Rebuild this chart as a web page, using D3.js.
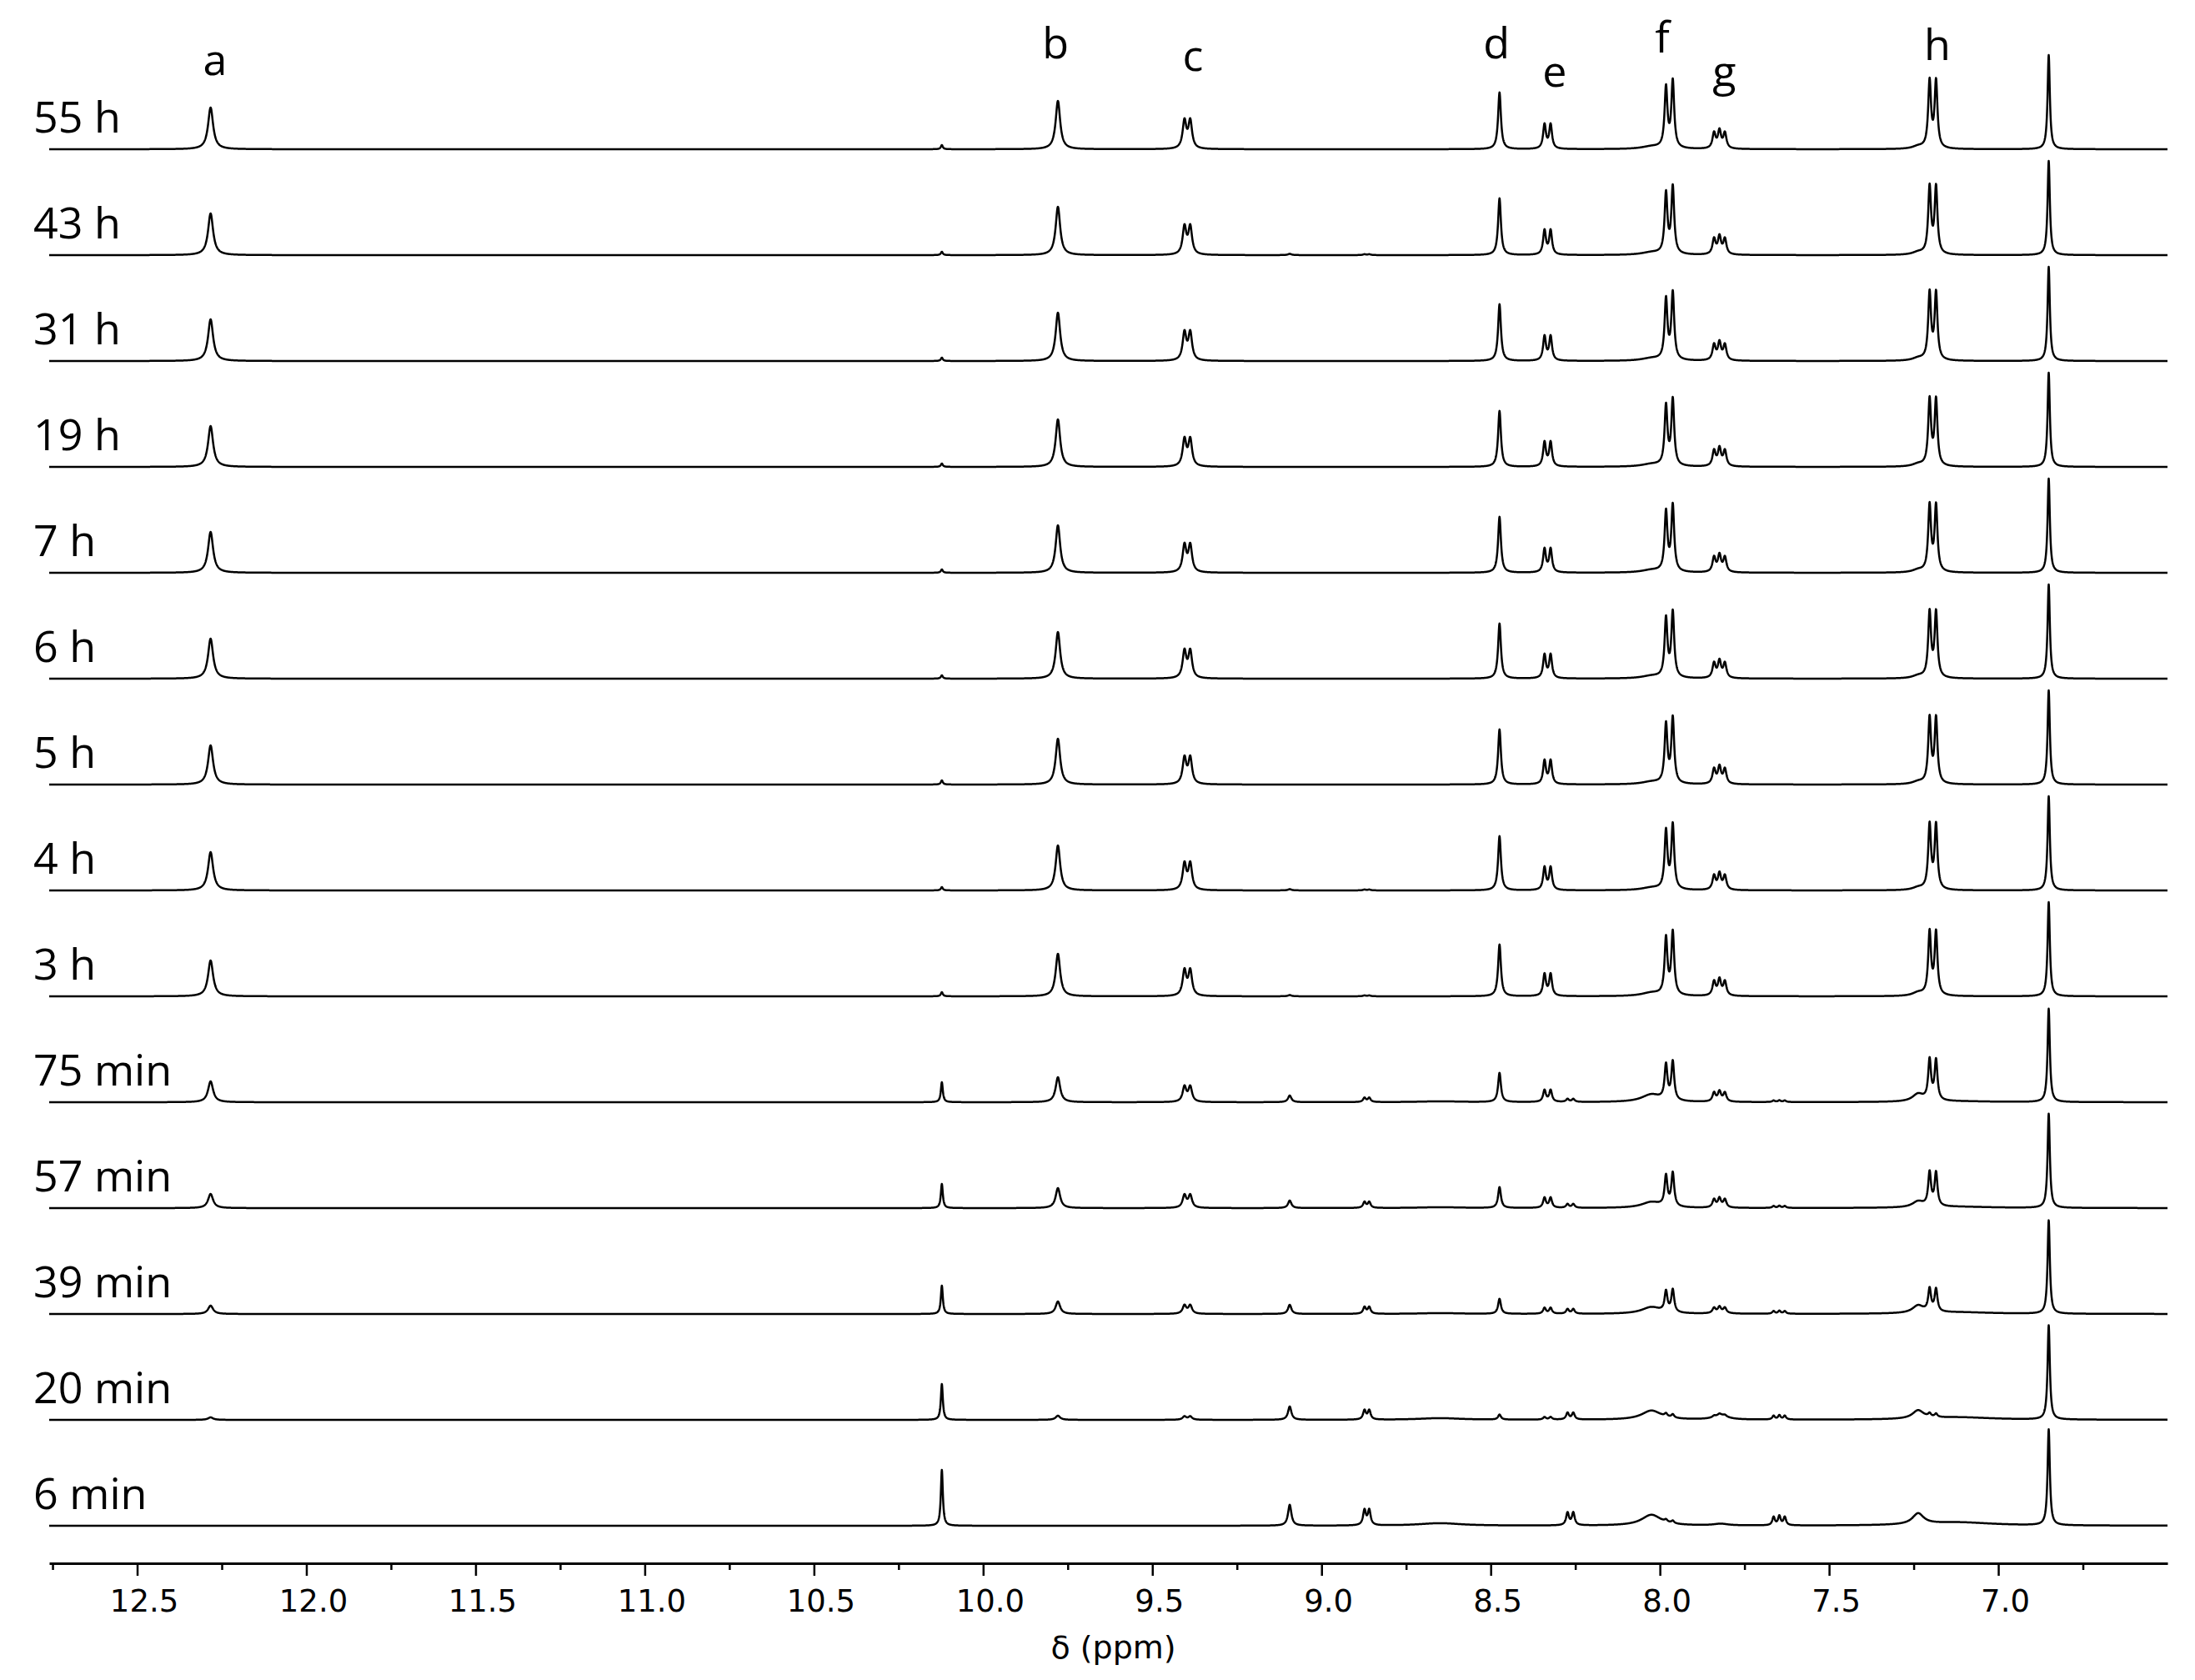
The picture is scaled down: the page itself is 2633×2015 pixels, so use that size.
<!DOCTYPE html>
<html lang="en">
<head>
<meta charset="UTF-8">
<title>1H NMR time series</title>
<script src="https://cdn.jsdelivr.net/npm/d3@7/dist/d3.min.js"></script>
<style>
  body { margin: 0; background: #fff; }
</style>
</head>
<body>
<div id="app"></div>
<script>
    var width = 2633;
    var height = 2015;

    // spectra, top to bottom
    var spectrumLabels = ["55 h", "43 h", "31 h", "19 h", "7 h", "6 h", "5 h", "4 h", "3 h",
                          "75 min", "57 min", "39 min", "20 min", "6 min"];

    // signals: line positions (ppm), relative line intensities, linewidth (ppm)
    var signalNames = ["a", "b", "c", "d", "e", "f", "g", "h", "ref",
                       "i1", "i2", "i3", "i4", "i5", "br1", "br2", "br3", "br4", "br5"];
    var signalLines = [[12.283], [9.779], [9.405, 9.388], [8.474], [8.341, 8.323],
                       [7.982, 7.962], [7.840, 7.824, 7.808], [7.203, 7.184], [6.851],
                       [10.122], [9.094], [8.873, 8.859], [8.273, 8.256], [7.664, 7.647, 7.631],
                       [8.025], [7.237], [8.65], [7.12], [7.82]];
    var lineRel = [[1], [1], [1, 1], [1], [1, 1], [0.9, 1], [0.88, 1, 0.88], [1, 1], [1],
                   [1], [1], [1, 1], [1, 1], [0.9, 1, 0.9], [1], [1], [1], [1], [1]];
    var lineWidth = [0.018, 0.016, 0.013, 0.010, 0.010, 0.010, 0.011, 0.010, 0.008,
                     0.007, 0.012, 0.010, 0.010, 0.009, 0.07, 0.04, 0.15, 0.25, 0.05];

    // heights of each signal in every spectrum (a.u.), same order as spectrumLabels
    var hA   = [50, 50, 50, 49, 49, 48, 47, 46, 43, 25, 17, 10, 3, 0];
    var hB   = [58, 58, 58, 57, 57, 56, 55, 54, 51, 30, 24, 15, 5, 0];
    var hC   = [33, 33, 33, 32, 32, 32, 31, 31, 30, 18, 15, 10, 4, 0];
    var hD   = [68, 68, 68, 67, 67, 66, 66, 65, 62, 35, 25, 18, 6, 0];
    var hE   = [29, 29, 29, 29, 28, 28, 28, 27, 26, 14, 12, 7, 3, 0];
    var hF   = [80, 80, 80, 79, 79, 78, 78, 77, 75, 46, 40, 27, 4, 3];
    var hG   = [21, 21, 21, 21, 20, 20, 20, 19, 19, 12, 11, 7, 2, 0];
    var hH   = [80, 80, 80, 79, 79, 78, 78, 77, 75, 48, 40, 27, 4, 0];
    var hRef = [113, 113, 113, 113, 113, 113, 113, 113, 113, 112, 113, 112, 113, 115];
    var hI1  = [5, 4, 4, 4, 4, 4, 5, 4, 5, 24, 29, 34, 43, 67];
    var hI2  = [0, 1.5, 0, 0, 0, 0, 0, 1.5, 1.5, 8, 9, 11, 16, 25];
    var hI3  = [0, 1, 0, 0, 0, 0, 0, 1, 1, 5, 7, 8, 11, 18];
    var hI4  = [0, 0, 0, 0, 0, 0, 0, 0, 0, 3.5, 4.5, 5.5, 8, 15];
    var hI5  = [0, 0, 0, 0, 0, 0, 0, 0, 0, 2, 2.5, 3.5, 5, 11];
    var hBr1 = [3, 3, 3, 3, 3, 3, 3, 3, 4, 9, 7, 8, 11, 13];
    var hBr2 = [3, 3, 3, 3, 3, 3, 3, 3, 4, 9, 7, 9, 10, 13];
    var hBr3 = [0, 0, 0, 0, 0, 0, 0, 0, 0, 1, 1, 1, 2, 3];
    var hBr4 = [0, 0, 0, 0, 0, 0, 0, 0, 0, 1, 1.5, 2, 3, 4];
    var hBr5 = [0, 0, 0, 0, 0, 0, 0, 0, 0, 0, 0, 1, 5, 2];
    var signalHeights = [hA, hB, hC, hD, hE, hF, hG, hH, hRef,
                         hI1, hI2, hI3, hI4, hI5, hBr1, hBr2, hBr3, hBr4, hBr5];

    // assignment letters over the top spectrum
    var peakLetters = ["a", "b", "c", "d", "e", "f", "g", "h"];
    var peakLetterPpm = [12.27, 9.786, 9.38, 8.483, 8.311, 7.993, 7.81, 7.18];
    var peakLetterY = [90, 70, 85, 70, 104, 63, 104, 72];   // layout only

    // axis ticks
    var majorTicks = [12.5, 12.0, 11.5, 11.0, 10.5, 10.0, 9.5, 9.0, 8.5, 8.0, 7.5, 7.0];
    var minorTicks = [12.75, 12.25, 11.75, 11.25, 10.75, 10.25, 9.75, 9.25, 8.75, 8.25, 7.75, 7.25, 6.75];

    var svg = d3.select("#app")
        .append("svg")
        .attr("width", width)
        .attr("height", height);

    svg.append("rect").attr("width", width).attr("height", height).attr("fill", "#fff");

    var x = d3.scaleLinear().domain([12.76, 6.5]).range([59, 2600]);
    var base = d3.scalePoint().domain(spectrumLabels).range([179, 1830]);
    var amp = d3.scaleLinear().domain([0, 100]).range([0, 100]);
    var axisY = 1875;

    // lorentzian line shape summed over all lines of all signals
    function intensity(ppm, k) {
        var s = 0;
        for (var i = 0; i < signalLines.length; i++) {
            var h = signalHeights[i][k];
            if (!h) continue;
            var hw = lineWidth[i] / 2;
            for (var j = 0; j < signalLines[i].length; j++) {
                var t = (ppm - signalLines[i][j]) / hw;
                s += h * lineRel[i][j] / (1 + t * t);
            }
        }
        return s;
    }

    var pxGrid = d3.range(x.range()[0], x.range()[1] + 0.001, 0.25);

    var line = d3.line()
        .x(function (d) { return x(d[0]); })
        .y(function (d) { return d[2] - amp(d[1]); });

    var spectra = svg.append("g").attr("class", "spectra");
    spectrumLabels.forEach(function (lab, k) {
        var b0 = base(lab);
        var pts = pxGrid.map(function (px) {
            var ppm = x.invert(px);
            return [ppm, intensity(ppm, k), b0];
        });
        spectra.append("path")
            .attr("d", line(pts))
            .attr("fill", "none")
            .attr("stroke", "#000")
            .attr("stroke-width", 2.5)
            .attr("stroke-linejoin", "round");

        svg.append("text")
            .attr("x", 40)
            .attr("y", b0 - 20)
            .style("font-family", "'Open Sans', 'Noto Sans', sans-serif")
            .style("font-size", "52px")
            .attr("fill", "#000")
            .text(lab);
    });

    svg.selectAll("text.peak")
        .data(peakLetters)
        .enter()
        .append("text")
        .attr("class", "peak")
        .attr("x", function (d, i) { return x(peakLetterPpm[i]); })
        .attr("y", function (d, i) { return peakLetterY[i]; })
        .attr("text-anchor", "middle")
        .style("font-family", "'Open Sans', 'Noto Sans', sans-serif")
        .style("font-size", "52px")
        .text(function (d) { return d; });

    // axis
    var axisG = svg.append("g").attr("transform", "translate(0," + axisY + ")");
    axisG.call(d3.axisBottom(x)
        .tickValues(majorTicks)
        .tickSize(15)
        .tickSizeOuter(0)
        .tickFormat(d3.format(".1f")));
    var minorG = svg.append("g").attr("transform", "translate(0," + axisY + ")");
    minorG.call(d3.axisBottom(x).tickValues(minorTicks).tickSize(8).tickSizeOuter(0).tickFormat(""));
    minorG.select(".domain").remove();

    svg.selectAll(".domain").attr("stroke", "#000").attr("stroke-width", 3.2);
    svg.selectAll(".tick line").attr("stroke", "#000").attr("stroke-width", 2.5);
    axisG.selectAll(".tick text")
        .attr("y", 58)
        .attr("dy", null)
        .attr("dx", 8)
        .attr("fill", "#000")
        .style("font-family", "'DejaVu Sans', Verdana, sans-serif")
        .style("font-size", "37px");

    svg.append("text")
        .attr("x", (x.range()[0] + x.range()[1]) / 2 + 6)
        .attr("y", 1989)
        .attr("text-anchor", "middle")
        .style("font-family", "'DejaVu Sans', Verdana, sans-serif")
        .style("font-size", "38px")
        .text("δ (ppm)");
</script>
</body>
</html>
